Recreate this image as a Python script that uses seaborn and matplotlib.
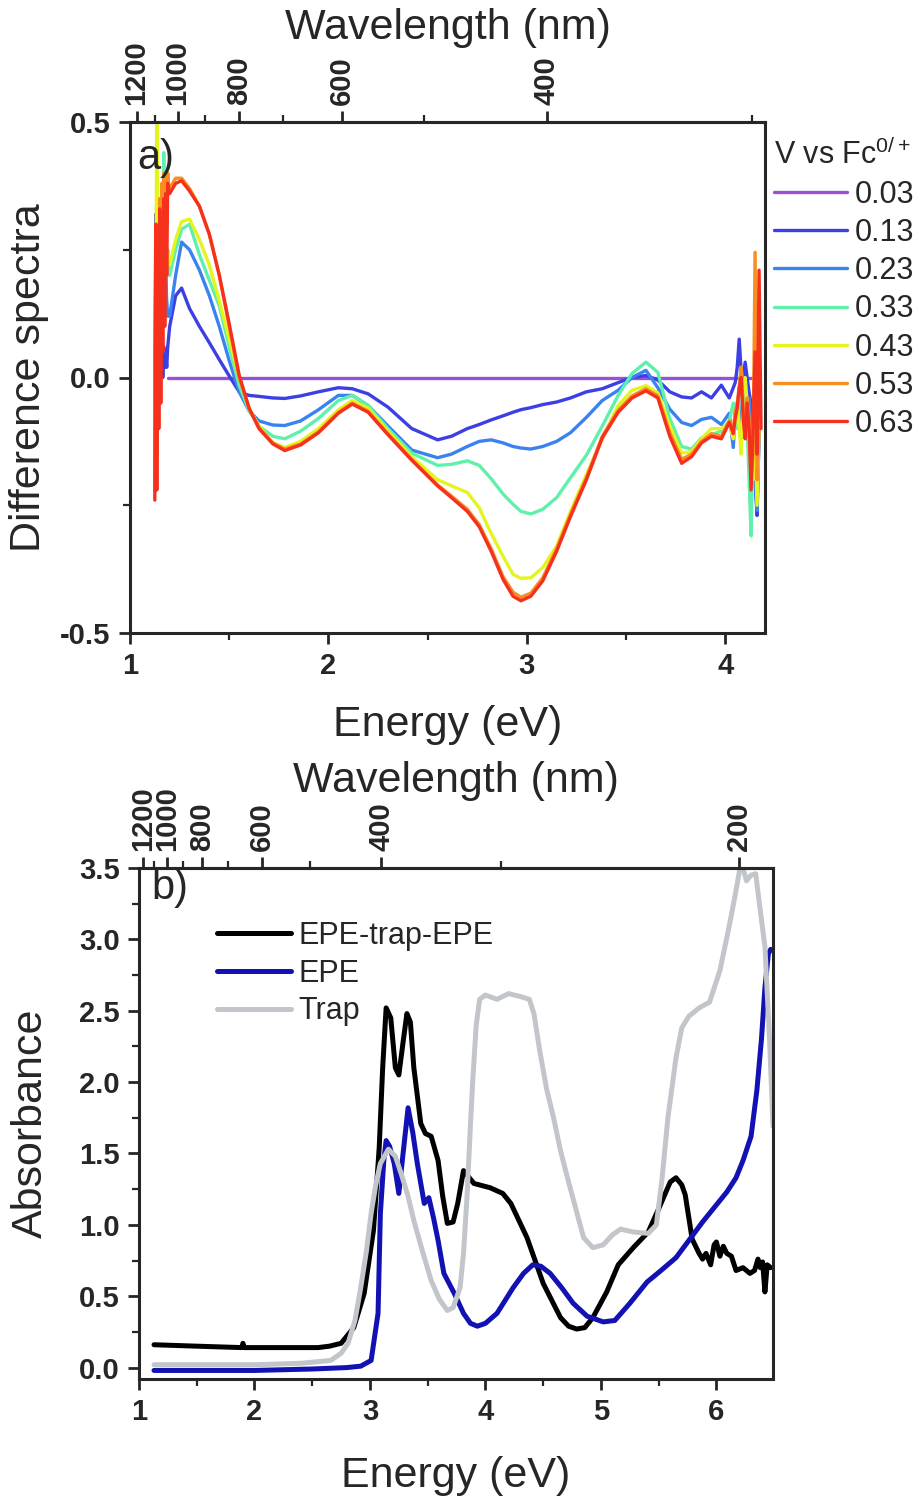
import numpy as np
import pandas as pd
import seaborn as sns
import matplotlib.pyplot as plt
from matplotlib.ticker import MultipleLocator, FixedLocator

sns.set_style("ticks")
plt.rcParams['font.family'] = ['Liberation Sans', 'DejaVu Sans']
plt.rcParams['mathtext.fontset'] = 'custom'
plt.rcParams['mathtext.rm'] = 'Liberation Sans'
plt.rcParams['mathtext.it'] = 'Liberation Sans'

# ---- panel a: difference spectra (energy in eV) ----
E_head = [1.125, 1.13, 1.135, 1.14, 1.145, 1.15, 1.155, 1.16, 1.165, 1.17, 1.175, 1.18, 1.185, 1.19, 1.195]
E_mid = [1.20, 1.23, 1.26, 1.30, 1.35, 1.40, 1.45, 1.50, 1.55, 1.60, 1.65, 1.72, 1.78, 1.86, 1.95,
         2.05, 2.12, 2.20, 2.30, 2.42, 2.55, 2.62, 2.70, 2.76, 2.82, 2.88, 2.93, 2.97, 3.02, 3.08,
         3.15, 3.22, 3.30, 3.38, 3.46, 3.53, 3.60, 3.66, 3.72, 3.78, 3.83, 3.88, 3.93, 3.98, 4.02]
E_tail = [4.04, 4.05, 4.06, 4.07, 4.08, 4.09, 4.10, 4.11, 4.12, 4.13, 4.14, 4.15, 4.16, 4.17, 4.18]

E_003 = [1.19, 4.13]
v_003 = [0.0, 0.0]

v_013 = ([-0.05, 0.32, 0.05, 0.12, 0.0, 0.15, 0.02, 0.08, 0.0, 0.06, 0.02, 0.05, 0.02, 0.06, 0.08]
         + [0.10, 0.16, 0.175, 0.135, 0.10, 0.068, 0.035, 0.003, -0.028, -0.035, -0.037, -0.040, -0.041, -0.036, -0.028,
            -0.020, -0.022, -0.032, -0.058, -0.100, -0.122, -0.115, -0.100, -0.092, -0.083, -0.075, -0.068, -0.063, -0.059, -0.053,
            -0.048, -0.040, -0.028, -0.022, -0.010, 0.000, 0.004, -0.005, -0.028, -0.038, -0.040, -0.028, -0.040, -0.015, -0.040]
         + [-0.02, -0.01, 0.02, 0.075, 0.01, 0.0, 0.03, 0.0, -0.03, -0.05, -0.1, -0.2, -0.27, -0.1, np.nan])
v_023 = ([-0.1, 0.15, 0.05, 0.22, 0.0, 0.2, 0.08, 0.25, 0.1, 0.22, 0.12, 0.2, 0.15, 0.12, 0.12]
         + [0.12, 0.20, 0.265, 0.25, 0.21, 0.16, 0.10, 0.033, -0.028, -0.065, -0.085, -0.093, -0.094, -0.085, -0.063,
            -0.035, -0.035, -0.055, -0.095, -0.142, -0.157, -0.150, -0.135, -0.125, -0.122, -0.128, -0.135, -0.138, -0.140, -0.135,
            -0.125, -0.108, -0.078, -0.045, -0.025, 0.000, 0.014, -0.020, -0.062, -0.088, -0.094, -0.082, -0.078, -0.092, -0.070]
         + [-0.137, -0.07, -0.05, -0.1, -0.08, -0.02, -0.06, -0.08, -0.04, -0.12, -0.15, -0.2, -0.26, -0.12, np.nan])
v_033 = ([-0.15, 0.2, 0.0, 0.28, 0.05, 0.3, 0.1, 0.35, 0.2, 0.44, 0.25, 0.3, 0.22, 0.25, 0.2]
         + [0.20, 0.25, 0.29, 0.30, 0.24, 0.19, 0.14, 0.06, -0.015, -0.065, -0.095, -0.115, -0.12, -0.105, -0.080,
            -0.045, -0.035, -0.055, -0.100, -0.148, -0.172, -0.170, -0.163, -0.172, -0.198, -0.228, -0.248, -0.262, -0.267, -0.258,
            -0.235, -0.196, -0.152, -0.095, -0.035, 0.008, 0.030, 0.010, -0.080, -0.135, -0.140, -0.118, -0.112, -0.105, -0.085]
         + [-0.05, -0.08, -0.10, -0.03, 0.02, -0.04, -0.06, -0.1, -0.2, -0.31, -0.1, -0.05, -0.2, -0.05, np.nan])
v_043 = ([-0.2, 0.1, 0.55, 0.3, 0.05, 0.35, 0.1, 0.3, 0.15, 0.32, 0.2, 0.3, 0.25, 0.22, 0.22]
         + [0.22, 0.27, 0.305, 0.31, 0.27, 0.22, 0.15, 0.075, 0.00, -0.06, -0.095, -0.128, -0.137, -0.125, -0.100,
            -0.063, -0.045, -0.060, -0.105, -0.155, -0.200, -0.212, -0.225, -0.255, -0.305, -0.350, -0.385, -0.393, -0.392, -0.372,
            -0.330, -0.262, -0.190, -0.120, -0.055, -0.025, -0.016, -0.030, -0.095, -0.148, -0.145, -0.120, -0.100, -0.100, -0.090]
         + [-0.12, -0.08, -0.05, -0.1, -0.15, -0.02, 0.0, -0.05, -0.1, -0.15, -0.2, -0.1, -0.25, -0.1, np.nan])
v_053 = ([-0.22, 0.25, -0.15, 0.3, 0.0, 0.35, 0.1, 0.38, 0.2, 0.4, 0.25, 0.39, 0.3, 0.4, 0.37]
         + [0.37, 0.39, 0.39, 0.37, 0.335, 0.28, 0.20, 0.10, 0.0, -0.06, -0.098, -0.128, -0.14, -0.13, -0.106,
            -0.068, -0.05, -0.066, -0.11, -0.16, -0.21, -0.232, -0.258, -0.288, -0.335, -0.39, -0.42, -0.43, -0.422, -0.392,
            -0.335, -0.268, -0.196, -0.115, -0.064, -0.036, -0.022, -0.036, -0.108, -0.16, -0.15, -0.125, -0.11, -0.115, -0.085]
         + [-0.1, -0.07, -0.05, -0.02, 0.02, -0.06, -0.1, -0.04, -0.08, -0.2, -0.15, 0.245, -0.2, -0.1, np.nan])
v_063 = ([-0.24, 0.30, -0.22, 0.28, -0.1, 0.33, -0.05, 0.30, 0.05, 0.35, 0.1, 0.36, 0.2, 0.38, 0.36]
         + [0.36, 0.38, 0.385, 0.365, 0.335, 0.28, 0.20, 0.105, 0.005, -0.060, -0.100, -0.130, -0.143, -0.132, -0.108,
            -0.070, -0.052, -0.068, -0.112, -0.162, -0.212, -0.235, -0.262, -0.292, -0.340, -0.395, -0.428, -0.437, -0.428, -0.398,
            -0.340, -0.272, -0.200, -0.118, -0.068, -0.040, -0.026, -0.040, -0.115, -0.168, -0.155, -0.128, -0.115, -0.120, -0.088]
         + [-0.11, -0.08, -0.06, -0.02, 0.0, -0.08, -0.12, -0.05, -0.1, -0.22, -0.1, 0.05, -0.15, 0.21, -0.1])

potentials = ['0.03', '0.13', '0.23', '0.33', '0.43', '0.53', '0.63']
colors_a = ['#9a4fd6', '#3b3fe4', '#3a82f0', '#5ff0ac', '#e4f41e', '#f88d22', '#f5311e']

# ---- panel b: absorbance ----
E_black = [1.13, 1.5, 1.89, 1.9, 1.91, 2.3, 2.55, 2.65, 2.75, 2.86, 2.95, 3.03, 3.08, 3.11, 3.14, 3.18, 3.22,
           3.25, 3.29, 3.32, 3.35, 3.38, 3.44, 3.48, 3.53, 3.59, 3.63, 3.67, 3.72, 3.76, 3.81, 3.86, 3.90,
           4.04, 4.15, 4.22, 4.36, 4.50, 4.65, 4.72, 4.79, 4.86, 4.93, 5.05, 5.15, 5.28, 5.41, 5.52, 5.60,
           5.65, 5.70, 5.73, 5.79, 5.85, 5.88, 5.91, 5.95, 5.98, 6.0, 6.03, 6.06, 6.09, 6.13, 6.17, 6.23,
           6.29, 6.33, 6.36, 6.38, 6.40, 6.42, 6.44, 6.47]
A_black = [0.16, 0.15, 0.14, 0.17, 0.14, 0.14, 0.14, 0.15, 0.17, 0.28, 0.52, 0.96, 1.54, 2.1, 2.52, 2.45, 2.1,
           2.05, 2.3, 2.48, 2.42, 2.1, 1.71, 1.64, 1.62, 1.45, 1.2, 1.01, 1.02, 1.15, 1.38, 1.33, 1.29,
           1.26, 1.22, 1.15, 0.91, 0.59, 0.35, 0.29, 0.27, 0.28, 0.35, 0.53, 0.72, 0.84, 0.95, 1.15, 1.30,
           1.33, 1.28, 1.21, 0.90, 0.80, 0.76, 0.80, 0.72, 0.86, 0.88, 0.78, 0.85, 0.80, 0.78, 0.68, 0.70,
           0.66, 0.68, 0.76, 0.70, 0.74, 0.53, 0.72, 0.70]

E_blue = [1.13, 1.5, 2.0, 2.5, 2.8, 2.92, 3.01, 3.07, 3.09, 3.12, 3.14, 3.17, 3.21, 3.25, 3.28, 3.33, 3.37,
          3.41, 3.47, 3.51, 3.55, 3.59, 3.64, 3.73, 3.81, 3.87, 3.93, 4.0, 4.10, 4.24, 4.33, 4.41, 4.48,
          4.56, 4.66, 4.76, 4.88, 5.02, 5.12, 5.25, 5.40, 5.52, 5.65, 5.77, 5.88, 6.0, 6.09, 6.17, 6.23,
          6.30, 6.35, 6.39, 6.42, 6.45, 6.47]
A_blue = [-0.02, -0.02, -0.02, -0.01, 0.0, 0.01, 0.05, 0.38, 1.08, 1.45, 1.59, 1.55, 1.43, 1.22, 1.45, 1.82, 1.65,
          1.43, 1.15, 1.19, 1.05, 0.89, 0.66, 0.52, 0.38, 0.31, 0.29, 0.31, 0.38, 0.56, 0.66, 0.72, 0.71,
          0.66, 0.56, 0.45, 0.36, 0.32, 0.33, 0.45, 0.60, 0.68, 0.77, 0.90, 1.02, 1.14, 1.23, 1.33, 1.45,
          1.62, 1.94, 2.3, 2.66, 2.9, 2.93]

E_gray = [1.13, 1.5, 2.0, 2.4, 2.66, 2.75, 2.81, 2.87, 2.92, 2.97, 3.01, 3.05, 3.09, 3.16, 3.22, 3.27, 3.33,
          3.38, 3.46, 3.53, 3.60, 3.67, 3.72, 3.78, 3.81, 3.84, 3.87, 3.89, 3.92, 3.95, 4.0, 4.1, 4.2,
          4.3, 4.38, 4.42, 4.47, 4.53, 4.59, 4.65, 4.71, 4.78, 4.85, 4.93, 5.02, 5.1, 5.17, 5.28, 5.41,
          5.48, 5.53, 5.58, 5.65, 5.7, 5.76, 5.85, 5.94, 6.03, 6.11, 6.16, 6.20, 6.23, 6.26, 6.30, 6.34,
          6.38, 6.42, 6.46, 6.49]
A_gray = [0.02, 0.02, 0.02, 0.03, 0.05, 0.10, 0.17, 0.33, 0.56, 0.82, 1.08, 1.28, 1.43, 1.53, 1.48, 1.36, 1.2,
          1.03, 0.80, 0.61, 0.48, 0.40, 0.42, 0.56, 0.80, 1.19, 1.7, 2.01, 2.4, 2.58, 2.61, 2.58, 2.62,
          2.6, 2.58, 2.48, 2.22, 1.95, 1.75, 1.52, 1.33, 1.12, 0.91, 0.84, 0.86, 0.93, 0.97, 0.95, 0.94,
          1.0, 1.33, 1.75, 2.17, 2.38, 2.46, 2.52, 2.56, 2.78, 3.09, 3.3, 3.48, 3.50, 3.41, 3.45, 3.46,
          3.2, 2.95, 2.3, 1.69]

labels_b = ['EPE-trap-EPE', 'EPE', 'Trap']
colors_b = ['#000000', '#1212b4', '#c2c6ca']

wl_a_major = [1200, 1000, 800, 600, 400]
wl_a_minor = [1100, 900, 700, 500, 300]
wl_b_major = [1200, 1000, 800, 600, 400, 200]
wl_b_minor = [1100, 900, 700, 500, 300]

# ---- figure ----
fig = plt.figure(figsize=(9.22, 15.0), dpi=100)
ax_a = fig.add_axes([130 / 922, 1 - 633 / 1500, 635 / 922, 511 / 1500])
ax_b = fig.add_axes([139 / 922, 1 - 1379 / 1500, 634 / 922, 511 / 1500])

E_a = E_head + E_mid + E_tail
series_a = [v_013, v_023, v_033, v_043, v_053, v_063]
sns.lineplot(x=E_003, y=v_003, color=colors_a[0], lw=2.4, label=potentials[0], ax=ax_a)
for lab, col, vals in zip(potentials[1:], colors_a[1:], series_a):
    df = pd.DataFrame({'E': E_a, 'v': vals}).dropna()
    sns.lineplot(data=df, x='E', y='v', color=col, lw=2.4, label=lab, ax=ax_a,
                 estimator=None, sort=False)

for lab, col, ee, aa in zip(labels_b, colors_b, [E_black, E_blue, E_gray], [A_black, A_blue, A_gray]):
    df = pd.DataFrame({'E': ee, 'A': aa})
    sns.lineplot(data=df, x='E', y='A', color=col, lw=3.6, label=lab, ax=ax_b,
                 estimator=None, sort=False)


def style_axes(ax, xlim, ylim, xt, yt, ylabels, wl_major, wl_minor, xpad, toppad):
    ax.set_xlim(*xlim)
    ax.set_ylim(*ylim)
    ax.set_xticks(xt)
    ax.set_xticklabels([str(t) for t in xt], fontweight='bold')
    ax.set_yticks(yt)
    ax.set_yticklabels(ylabels, fontweight='bold')
    ax.xaxis.set_minor_locator(MultipleLocator(0.5))
    ax.yaxis.set_minor_locator(MultipleLocator((yt[1] - yt[0]) / 2))
    for s in ax.spines.values():
        s.set_linewidth(2.2)
        s.set_visible(True)
    ax.tick_params(which='major', direction='out', length=8, width=2, labelsize=21, pad=6)
    ax.tick_params(which='minor', direction='out', length=5, width=1.6)
    ax.set_xlabel('Energy (eV)', fontsize=31, labelpad=xpad)
    top = ax.twiny()
    top.set_xlim(ax.get_xlim())
    top.set_xticks([1239.84 / w for w in wl_major])
    top.set_xticklabels([str(w) for w in wl_major], rotation=90, fontweight='bold')
    top.xaxis.set_minor_locator(FixedLocator([1239.84 / w for w in wl_minor]))
    top.tick_params(which='major', direction='out', length=8, width=2, labelsize=21, pad=4)
    top.tick_params(which='minor', direction='out', length=5, width=1.6)
    top.spines['top'].set_linewidth(2.2)
    top.set_xlabel('Wavelength (nm)', fontsize=31, labelpad=toppad)
    return top


style_axes(ax_a, (1.0, 4.2), (-0.5, 0.5), [1, 2, 3, 4], [-0.5, 0.0, 0.5],
           ['-0.5', '0.0', '0.5'], wl_a_major, wl_a_minor, 18, 1)
ax_a.set_ylabel('Difference spectra', fontsize=31, labelpad=8)
ax_a.text(0.012, 0.93, 'a)', transform=ax_a.transAxes, fontsize=30, va='center')
ax_a.legend(loc='upper left', bbox_to_anchor=(0.995, 0.99), frameon=False,
            title='V vs Fc$^{0/+}$', title_fontsize=22, fontsize=22, alignment='left',
            handlelength=2.4, handletextpad=0.25, labelspacing=0.27, borderaxespad=0.0)

yt_b = [0.0, 0.5, 1.0, 1.5, 2.0, 2.5, 3.0, 3.5]
style_axes(ax_b, (1.02, 6.49), (-0.08, 3.5), [1, 2, 3, 4, 5, 6], yt_b,
           ['%.1f' % t for t in yt_b], wl_b_major, wl_b_minor, 21, -4)
ax_b.set_ylabel('Absorbance', fontsize=31, labelpad=20)
ax_b.text(0.02, 0.96, 'b)', transform=ax_b.transAxes, fontsize=30, va='center')
ax_b.legend(loc='upper left', bbox_to_anchor=(0.08, 0.95), frameon=False, fontsize=22,
            handlelength=2.4, handletextpad=0.25, labelspacing=0.25)

fig.savefig('out.png', dpi=100, facecolor='white')
